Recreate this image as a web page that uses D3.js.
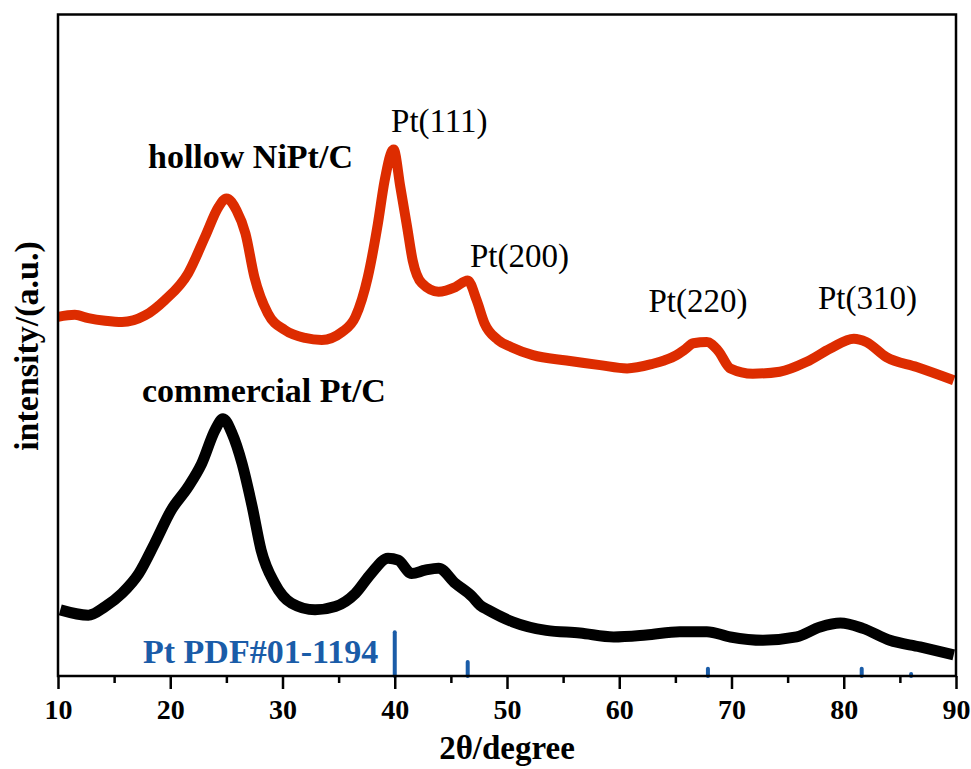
<!DOCTYPE html>
<html>
<head>
<meta charset="utf-8" />
<title>XRD</title>
<style>
  body { margin: 0; background: #fff; }
  text { font-family: "Liberation Serif", "Times New Roman", serif; }
</style>
</head>
<body>
<div id="chart"></div>
<script src="https://d3js.org/d3.v7.min.js"></script>
<script>
(function(d3) {
'use strict';

// hollow NiPt/C (red), intensity in a.u.
var nipt_angle = [10.0, 11.5, 12.7, 14.2, 15.7, 17.75, 19.5, 21.6, 23.1, 24.3, 25.0, 25.9, 26.7, 27.5, 28.7,
  30.2, 32.0, 33.5, 35.3, 36.5, 37.6, 38.5, 39.1, 39.9, 40.5, 41.1, 41.6, 42.4, 43.9, 45.4,
  46.5, 47.3, 48.0, 49.2, 50.4, 52.3, 55.3, 58.3, 60.7, 63.0, 64.0, 65.1, 65.8, 66.6, 67.8, 68.8, 69.9,
  71.9, 74.3, 76.7, 78.8, 80.9, 82.0, 83.8, 86.5, 89.8];
var nipt_int = [54.3, 54.6, 54.1, 53.7, 53.5, 54.5, 56.8, 60.9, 66.4, 70.9, 72.2, 70.4, 66.9, 60.3, 54.8,
  52.3, 51.1, 50.8, 52.0, 54.3, 60.3, 68.4, 74.9, 79.6, 73.9, 67.9, 62.8, 59.4, 58.1, 58.8,
  59.8, 56.8, 53.3, 50.8, 49.7, 48.5, 47.7, 47.0, 46.5, 47.2, 47.7, 48.5, 49.3, 50.3, 50.5, 49.2, 46.5,
  45.7, 46.0, 47.5, 49.5, 51.0, 50.5, 48.2, 46.7, 44.7];

// commercial Pt/C (black)
var ptc_angle = [10.2, 12.7, 14.2, 15.7, 17.2, 18.6, 20.1, 21.6, 22.8, 24.0, 24.7, 25.5, 26.4,
  27.3, 28.1, 29.3, 30.8, 32.9, 34.7, 36.5, 37.9, 39.4, 40.3, 41.5, 42.7, 43.9, 45.4, 46.9,
  47.6, 48.3, 50.5, 53.5, 56.5, 59.5, 62.4, 65.4, 67.8, 69.9, 72.8, 75.8, 77.9, 79.7, 81.7,
  84.1, 86.8, 89.8];
var ptc_int = [10.0, 9.2, 10.5, 12.5, 15.5, 20.0, 25.1, 28.6, 32.1, 37.2, 38.9, 36.7, 32.1,
  25.6, 19.0, 14.0, 11.0, 10.0, 10.5, 12.5, 15.5, 17.8, 17.5, 15.5, 16.0, 16.3, 14.0, 12.0,
  10.7, 10.0, 8.2, 6.9, 6.5, 5.9, 6.2, 6.7, 6.7, 5.9, 5.4, 5.9, 7.4, 8.0, 7.2,
  5.4, 4.4, 3.2];

// Pt PDF#01-1194 reference sticks
var pdf_angle = [40.0, 46.5, 67.9, 81.6, 86.0];
var pdf_int = [6.6, 2.1, 1.1, 1.1, 0.3];

var xTicks = [10, 20, 30, 40, 50, 60, 70, 80, 90];
var xMinor = [15, 25, 35, 45, 55, 65, 75, 85];

var peakLabels = ['Pt(111)', 'Pt(200)', 'Pt(220)', 'Pt(310)'];
var peakLabelAngle = [39.67, 46.7, 62.6, 77.7];
var peakLabelInt = [82.3, 61.8, 55.0, 55.5];

var width = 971, height = 769;
var margin = { left: 58, right: 15, top: 14.5, bottom: 93 };

var svg = d3.select('#chart').append('svg')
  .attr('width', width)
  .attr('height', height);

var x = d3.scaleLinear().domain([10, 90]).range([margin.left, width - margin.right]);
var y = d3.scaleLinear().domain([0, 100]).range([height - margin.bottom, margin.top]);

function series(a, v) {
  return a.map(function(d, i) { return [d, v[i]]; });
}

var line = d3.line()
  .x(function(d) { return x(d[0]); })
  .y(function(d) { return y(d[1]); })
  .curve(d3.curveMonotoneX);

svg.append('path')
  .datum(series(nipt_angle, nipt_int))
  .attr('d', line)
  .attr('fill', 'none')
  .attr('stroke', '#dd2c00')
  .attr('stroke-width', 10)
  .attr('stroke-linejoin', 'round');

svg.append('path')
  .datum(series(ptc_angle, ptc_int))
  .attr('d', line)
  .attr('fill', 'none')
  .attr('stroke', '#000')
  .attr('stroke-width', 11)
  .attr('stroke-linejoin', 'round');

svg.selectAll('line.pdf')
  .data(series(pdf_angle, pdf_int))
  .enter().append('line')
  .attr('class', 'pdf')
  .attr('x1', function(d) { return x(d[0]); })
  .attr('x2', function(d) { return x(d[0]); })
  .attr('y1', y(0))
  .attr('y2', function(d) { return y(d[1]); })
  .attr('stroke', '#1a5ca8')
  .attr('stroke-width', 4)
  .attr('stroke-linecap', 'round');

// frame
svg.append('rect')
  .attr('x', x(10)).attr('y', y(100))
  .attr('width', x(90) - x(10)).attr('height', y(0) - y(100))
  .attr('fill', 'none').attr('stroke', '#000').attr('stroke-width', 2.5);

var xAxis = d3.axisBottom(x).tickValues(xTicks).tickSize(13).tickPadding(10)
  .tickFormat(d3.format('d'));
var gx = svg.append('g').attr('transform', 'translate(0,' + y(0) + ')').call(xAxis);
gx.select('.domain').remove();
gx.selectAll('.tick line').attr('stroke-width', 2.5);
gx.selectAll('.tick text')
  .attr('font-size', 28).attr('font-weight', 'bold').attr('fill', '#000')
  .attr('font-family', '"Liberation Serif", serif');

var gm = svg.append('g').attr('transform', 'translate(0,' + y(0) + ')')
  .call(d3.axisBottom(x).tickValues(xMinor).tickSize(7).tickFormat(''));
gm.select('.domain').remove();
gm.selectAll('.tick line').attr('stroke-width', 2.5);

// axis titles
svg.append('text')
  .attr('x', (x(10) + x(90)) / 2).attr('y', 759)
  .attr('text-anchor', 'middle')
  .attr('font-size', 33).attr('font-weight', 'bold')
  .text('2θ/degree');

svg.append('text')
  .attr('transform', 'translate(38,346) rotate(-90)')
  .attr('text-anchor', 'middle')
  .attr('font-size', 34).attr('font-weight', 'bold')
  .text('intensity/(a.u.)');

// sample labels
svg.append('text').attr('x', 148).attr('y', 168)
  .attr('font-size', 34).attr('font-weight', 'bold').text('hollow NiPt/C');
svg.append('text').attr('x', 142).attr('y', 402)
  .attr('font-size', 34).attr('font-weight', 'bold').text('commercial Pt/C');
svg.append('text').attr('x', 143).attr('y', 663)
  .attr('font-size', 34).attr('font-weight', 'bold').attr('fill', '#1a5ca8')
  .text('Pt PDF#01-1194');

svg.selectAll('text.peak')
  .data(peakLabels)
  .enter().append('text')
  .attr('class', 'peak')
  .attr('x', function(d, i) { return x(peakLabelAngle[i]); })
  .attr('y', function(d, i) { return y(peakLabelInt[i]); })
  .attr('font-size', 33)
  .text(function(d) { return d; });

})(window.d3);
</script>
</body>
</html>
